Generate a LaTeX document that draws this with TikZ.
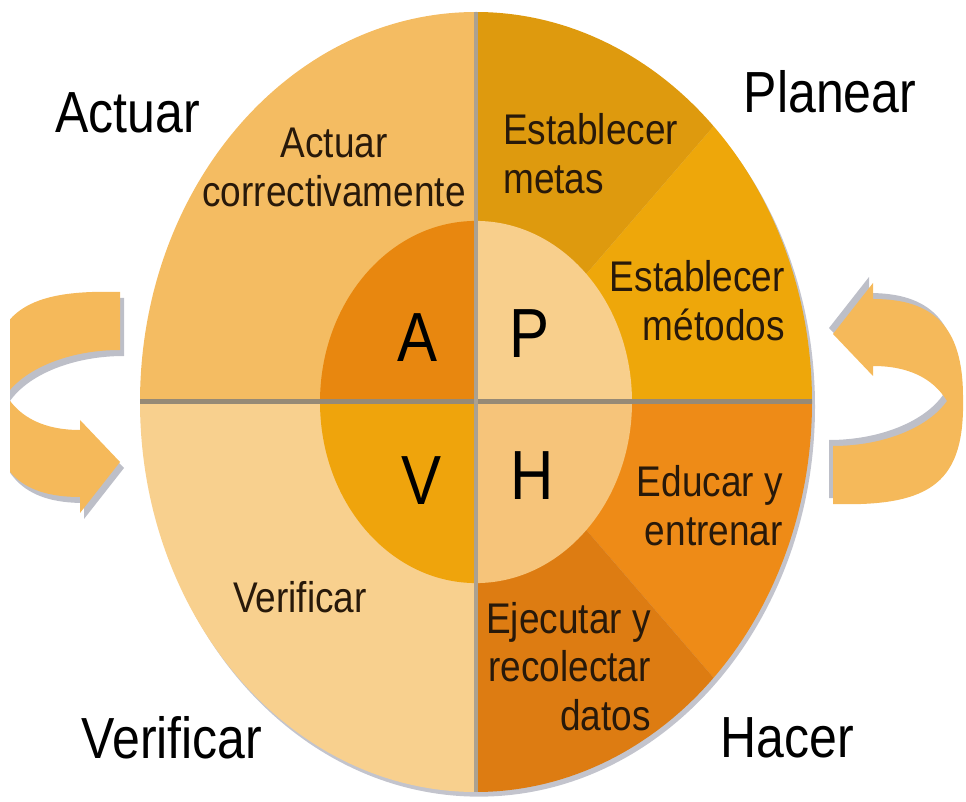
\documentclass[tikz,border=0pt]{standalone}
\usepackage{fontspec}
\setmainfont{Liberation Sans}
\usepackage{graphicx}

\definecolor{flecha}{RGB}{245,185,90}
\definecolor{sombra}{RGB}{135,138,155}
\definecolor{actuar}{RGB}{244,188,98}
\definecolor{verificar}{RGB}{248,208,142}
\definecolor{metas}{RGB}{222,154,14}
\definecolor{metodos}{RGB}{238,167,10}
\definecolor{educar}{RGB}{238,139,23}
\definecolor{ejecutar}{RGB}{221,124,18}
\definecolor{nucleoA}{RGB}{232,135,15}
\definecolor{nucleoP}{RGB}{248,207,140}
\definecolor{nucleoV}{RGB}{239,164,12}
\definecolor{nucleoH}{RGB}{246,196,122}
\definecolor{raya}{RGB}{150,138,118}
\definecolor{letra}{RGB}{40,25,10}

\newcommand{\grande}{\fontsize{50}{60}\selectfont}
\newcommand{\mediano}{\fontsize{37}{42}\selectfont}
\newcommand{\letrota}{\fontsize{60}{72}\selectfont}
\newcommand{\alto}[2]{\scalebox{1}[1.16]{\begin{tabular}[t]{@{}#1@{}}#2\end{tabular}}}
\newcommand{\flechapath}{(120,509) .. controls (20,512) and (-12,486) .. (-10,402)
  .. controls (-10,331) and (20,304) .. (80,304) -- (80,288) -- (120,339) -- (80,381)
  -- (80,371) .. controls (45,371) and (20,383) .. (6,406)
  .. controls (25,433) and (70,451) .. (120,451) -- cycle}

\tikzset{
  rotulo/.style={inner sep=0pt, text=letra},
  titulo/.style={inner sep=0pt, text=black},
}

\begin{document}
\begin{tikzpicture}[x=1pt,y=1pt]
  \useasboundingbox (0,0) rectangle (966,801);
  \coordinate (pivote) at (476.5,403);

  % flechas
  \begin{scope}
    \clip (10,0) rectangle (966,801);
    \fill [sombra,opacity=.55,shift={(4,-6)}] \flechapath;
    \fill [flecha] \flechapath;
  \end{scope}
  \fill [sombra,opacity=.55,shift={(4,-6)},rotate around={180:(pivote)}] \flechapath;
  \fill [flecha,rotate around={180:(pivote)}] \flechapath;

  % circulo
  \begin{scope}[shift={(476,399)},yscale=1.1607]
    \fill [sombra,opacity=.5] (3pt,-4pt) circle (336pt);
    \fill [actuar]    (0,0) -- (90:336pt)  arc (90:180:336pt)  -- cycle;
    \fill [verificar] (0,0) -- (180:336pt) arc (180:270:336pt) -- cycle;
    \fill [metas]     (0,0) -- (45:336pt)  arc (45:90:336pt)   -- cycle;
    \fill [metodos]   (0,0) -- (0:336pt)   arc (0:45:336pt)    -- cycle;
    \fill [educar]    (0,0) -- (-45:336pt) arc (-45:0:336pt)   -- cycle;
    \fill [ejecutar]  (0,0) -- (-90:336pt) arc (-90:-45:336pt) -- cycle;
    \fill [nucleoP] (0,0) -- (0:156pt)   arc (0:90:156pt)    -- cycle;
    \fill [nucleoA] (0,0) -- (90:156pt)  arc (90:180:156pt)  -- cycle;
    \fill [nucleoV] (0,0) -- (180:156pt) arc (180:270:156pt) -- cycle;
    \fill [nucleoH] (0,0) -- (270:156pt) arc (270:360:156pt) -- cycle;
    \draw [raya,line width=5pt] (-336pt,0) -- (336pt,0);
    \draw [raya!80,line width=4pt] (0,-336pt) -- (0,336pt);
  \end{scope}

  % letras centrales
  \node [titulo,anchor=base] (letraA) at (418,439) {\letrota\alto{c}{A}};
  \node [titulo,anchor=base] (letraP) at (530,443) {\letrota\alto{c}{P}};
  \node [titulo,anchor=base] (letraV) at (422,296) {\letrota\alto{c}{V}};
  \node [titulo,anchor=base] (letraH) at (532,301) {\letrota\alto{c}{H}};

  % textos de los sectores
  \node [rotulo,anchor=base] (corregir) at (334,643) {\mediano\alto{c}{Actuar\\correctivamente}};
  \node [rotulo,anchor=base west] (metas) at (503,656) {\mediano\alto{l}{Establecer\\metas}};
  \node [rotulo,anchor=base east] (metodos) at (785,509) {\mediano\alto{r}{Establecer\\métodos}};
  \node [rotulo,anchor=base east] (educar) at (783,304) {\mediano\alto{r}{Educar y\\entrenar}};
  \node [rotulo,anchor=base east] (ejecutar) at (651,168) {\mediano\alto{r}{Ejecutar y\\recolectar\\datos}};
  \node [rotulo,anchor=base] (revisar) at (300,189) {\mediano\alto{c}{Verificar}};

  % titulos de las fases
  \node [titulo,anchor=base] (actuar) at (127.5,668) {\grande\alto{c}{Actuar}};
  \node [titulo,anchor=base] (planear) at (830,688) {\grande\alto{c}{Planear}};
  \node [titulo,anchor=base] (verificar) at (172,43) {\grande\alto{c}{Verificar}};
  \node [titulo,anchor=base] (hacer) at (787,44) {\grande\alto{c}{Hacer}};
\end{tikzpicture}
\end{document}
